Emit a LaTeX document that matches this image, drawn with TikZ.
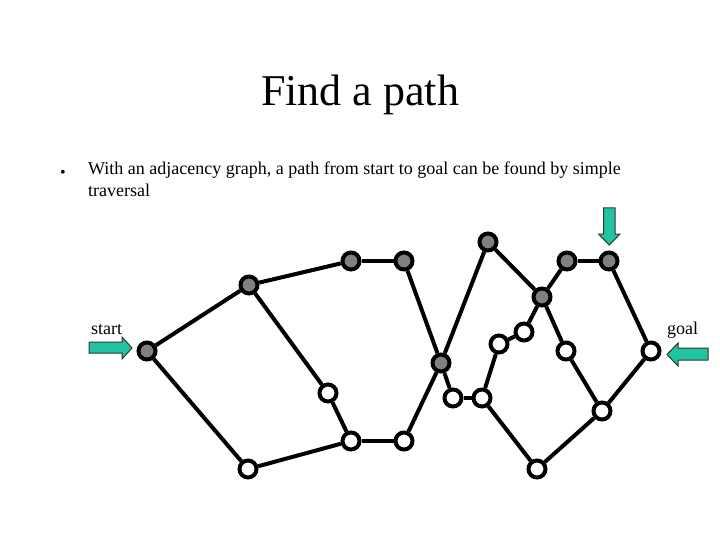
\documentclass[tikz,border=0pt]{standalone}
\usepackage{fontspec}
\setmainfont{Liberation Serif}
\definecolor{arrowgreen}{RGB}{32,196,160}
\definecolor{nodegray}{RGB}{128,128,128}
\begin{document}
\begin{tikzpicture}[x=1pt,y=-1pt,
  vtx/.style={circle,draw=black,line width=4pt,inner sep=0pt,minimum size=17pt},
  gv/.style={vtx,fill=nodegray},
  wv/.style={vtx,fill=white},
  edge/.style={line width=4pt,black},
  blockarrow/.style={fill=arrowgreen,draw=black!80,line width=1pt,line join=miter}]
\useasboundingbox (0,0) rectangle (720,540);
% title and text
\node[font=\fontsize{44}{50}\selectfont] (title) at (360,95) {Find a path};
\node[font=\fontsize{16}{21.6}\selectfont,anchor=base] (bul) at (63,178) {\textbullet};
\node[font=\fontsize{18}{21.6}\selectfont,anchor=north west,align=left,inner sep=0pt] (txt) at (88,162)
  {With an adjacency graph, a path from start to goal can be found by simple\\traversal};
% nodes
\node[gv] (S) at (147,351) {};
\node[gv] (A) at (249,285) {};
\node[gv] (B) at (351,261) {};
\node[gv] (C) at (404,261) {};
\node[gv] (D) at (488,242) {};
\node[gv] (E) at (567,261) {};
\node[gv] (F) at (609,261) {};
\node[gv] (G) at (542,297) {};
\node[gv] (H) at (441,363) {};
\node[wv] (I) at (328,393) {};
\node[wv] (J) at (351,441) {};
\node[wv] (K) at (404,441) {};
\node[wv] (L) at (248,469) {};
\node[wv] (M) at (453,398) {};
\node[wv] (N) at (482,398) {};
\node[wv] (O) at (499,344) {};
\node[wv] (P) at (524,332) {};
\node[wv] (Q) at (566,351) {};
\node[wv] (R) at (651,351) {};
\node[wv] (T) at (602,411) {};
\node[wv] (U) at (537,469) {};
% edges
\foreach \a/\b in {S/A,A/B,B/C,A/I,I/J,J/K,J/L,S/L,C/H,H/D,H/K,H/M,M/N,N/O,O/P,P/G,D/G,G/E,E/F,F/R,G/Q,Q/T,R/T,N/U,U/T}
  \draw[edge] (\a) -- (\b);
% labels
\node[font=\fontsize{18}{21.6}\selectfont,anchor=base west,inner sep=0pt] (st) at (91,334) {start};
\node[font=\fontsize{18}{21.6}\selectfont,anchor=base west,inner sep=0pt] (gl) at (667,334) {goal};
% arrows
\draw[blockarrow] (89,342) -- (122,342) -- (122,337) -- (132,348) -- (122,359) -- (122,353) -- (89,353) -- cycle;
\draw[blockarrow] (708,348) -- (678,348) -- (678,343) -- (667,354.5) -- (678,366) -- (678,360) -- (708,360) -- cycle;
\draw[blockarrow] (603.5,208) -- (615,208) -- (615,234) -- (620,234) -- (609.2,245) -- (598.5,234) -- (603.5,234) -- cycle;
\end{tikzpicture}
\end{document}
